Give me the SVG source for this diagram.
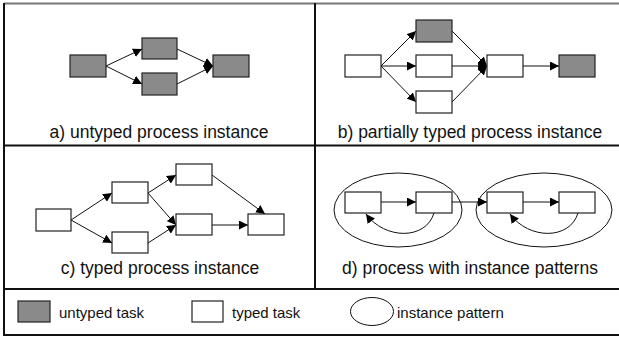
<svg xmlns="http://www.w3.org/2000/svg" width="619" height="337" viewBox="0 0 619 337">
<defs>
<marker id="ah" viewBox="0 0 10 10" refX="10" refY="5" markerWidth="9" markerHeight="9" markerUnits="userSpaceOnUse" orient="auto">
<path d="M0,0 L10,5 L0,10 z" fill="#000"/>
</marker>
<style>
.u{fill:#8a8a8a;stroke:#222;stroke-width:1.2}
.t{fill:#fff;stroke:#222;stroke-width:1.2}
.c{fill:none;stroke:#111;stroke-width:1;marker-end:url(#ah)}
.e{fill:none;stroke:#111;stroke-width:1}
text{font-family:"Liberation Sans",Arial,sans-serif;fill:#111}
.cap{font-size:17.5px;text-anchor:middle}
.leg{font-size:15px}
.frame{stroke:#111;stroke-width:2;fill:none}
</style>
</defs>
<rect width="619" height="337" fill="#fff"/>
<g id="frame">
<line x1="4" y1="3.5" x2="619" y2="3.5" stroke="#777" stroke-width="2"/>
<line x1="4" y1="3" x2="4" y2="335" class="frame"/>
<line x1="3" y1="335" x2="619" y2="335" class="frame"/>
<line x1="4" y1="145.5" x2="619" y2="145.5" class="frame"/>
<line x1="4" y1="289" x2="619" y2="289" class="frame"/>
<line x1="315" y1="3" x2="315" y2="289" class="frame"/>
</g>
<g id="connectors">
<line x1="106" y1="66" x2="142" y2="49" class="c"/>
<line x1="106" y1="66" x2="142" y2="84" class="c"/>
<line x1="177" y1="49" x2="213" y2="66" class="c"/>
<line x1="177" y1="84" x2="213" y2="66" class="c"/>
<line x1="381" y1="66" x2="416" y2="31" class="c"/>
<line x1="381" y1="66" x2="416" y2="66" class="c"/>
<line x1="381" y1="66" x2="416" y2="102" class="c"/>
<line x1="452" y1="31" x2="487" y2="66" class="c"/>
<line x1="452" y1="66" x2="487" y2="66" class="c"/>
<line x1="452" y1="102" x2="487" y2="66" class="c"/>
<line x1="523" y1="66" x2="559" y2="66" class="c"/>
<line x1="71" y1="220" x2="112" y2="193" class="c"/>
<line x1="71" y1="220" x2="112" y2="243" class="c"/>
<line x1="148" y1="193" x2="176" y2="175" class="c"/>
<line x1="148" y1="193" x2="176" y2="225" class="c"/>
<line x1="148" y1="243" x2="176" y2="225" class="c"/>
<line x1="212" y1="175" x2="265" y2="214" class="c"/>
<line x1="212" y1="225" x2="248" y2="225" class="c"/>
<line x1="381" y1="202" x2="416" y2="202" class="c"/>
<line x1="452" y1="202" x2="487" y2="202" class="c"/>
<line x1="523" y1="202" x2="559" y2="202" class="c"/>
<path d="M434,213 C426,240 385,240 366,214" class="c"/>
<path d="M578,213 C570,240 529,240 510,214" class="c"/>
</g>
<g id="panel-a">
<rect id="a1" x="70" y="55" width="36" height="22" class="u"/>
<rect id="a2" x="142" y="38" width="35" height="21" class="u"/>
<rect id="a3" x="142" y="73" width="35" height="22" class="u"/>
<rect id="a4" x="213" y="55" width="36" height="22" class="u"/>
<text x="159" y="138" class="cap">a) untyped process instance</text>
</g>
<g id="panel-b">
<rect id="b1" x="345" y="55" width="36" height="22" class="t"/>
<rect id="b2" x="416" y="20" width="36" height="22" class="u"/>
<rect id="b3" x="416" y="55" width="36" height="22" class="t"/>
<rect id="b4" x="416" y="91" width="36" height="22" class="t"/>
<rect id="b5" x="487" y="55" width="36" height="22" class="t"/>
<rect id="b6" x="559" y="55" width="36" height="22" class="u"/>
<text x="470" y="138" class="cap">b) partially typed process instance</text>
</g>
<g id="panel-c">
<rect id="c1" x="36" y="209" width="35" height="22" class="t"/>
<rect id="c2" x="112" y="182" width="36" height="21" class="t"/>
<rect id="c3" x="112" y="232" width="36" height="21" class="t"/>
<rect id="c4" x="176" y="164" width="36" height="21" class="t"/>
<rect id="c5" x="176" y="214" width="36" height="21" class="t"/>
<rect id="c6" x="248" y="214" width="36" height="21" class="t"/>
<text x="160" y="274" class="cap">c) typed process instance</text>
</g>
<g id="panel-d">
<ellipse id="p1" cx="398" cy="210" rx="64" ry="37" class="e"/>
<ellipse id="p2" cx="544" cy="210" rx="68" ry="37" class="e"/>
<rect id="d1" x="345" y="192" width="36" height="21" class="t"/>
<rect id="d2" x="416" y="192" width="36" height="21" class="t"/>
<rect id="d3" x="487" y="192" width="36" height="21" class="t"/>
<rect id="d4" x="559" y="192" width="36" height="21" class="t"/>
<text x="470" y="274" class="cap">d) process with instance patterns</text>
</g>
<g id="legend">
<rect x="18" y="301" width="32" height="21" class="u"/>
<text x="59" y="318" class="leg">untyped task</text>
<rect x="192" y="301" width="31" height="21" class="t"/>
<text x="232" y="318" class="leg">typed task</text>
<ellipse cx="372" cy="311.5" rx="21.5" ry="14" class="e"/>
<text x="397" y="318" class="leg">instance pattern</text>
</g>
</svg>
